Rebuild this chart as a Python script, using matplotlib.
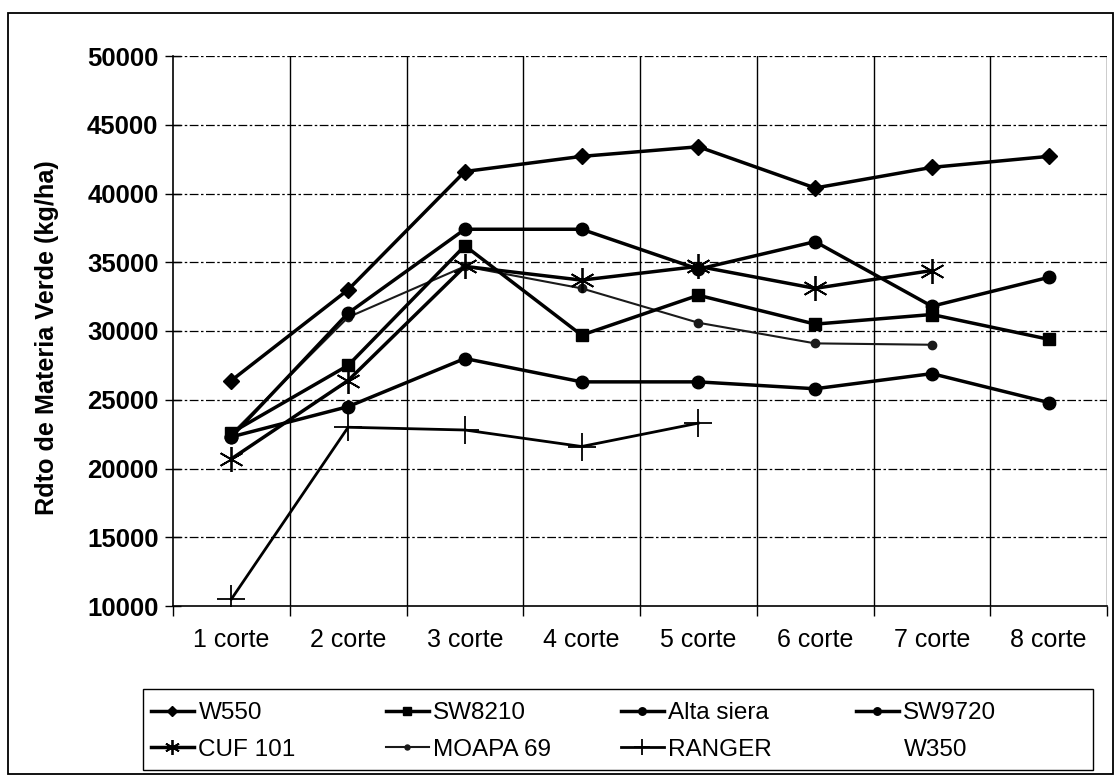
import numpy as np
import matplotlib
matplotlib.use("Agg")
import matplotlib.pyplot as plt
from matplotlib.lines import Line2D
from matplotlib.patches import Rectangle

plt.rcParams['font.family'] = ['Liberation Sans', 'DejaVu Sans']

# rendimiento por corte (kg/ha)
cortes = ['1 corte', '2 corte', '3 corte', '4 corte', '5 corte', '6 corte', '7 corte', '8 corte']
w550 = [26400, 33000, 41600, 42700, 43400, 40400, 41900, 42700]
sw8210 = [22600, 27500, 36200, 29700, 32600, 30500, 31200, 29400]
alta_siera = [22300, 31300, 37400, 37400, 34500, 36500, 31800, 33900]
sw9720 = [22300, 24500, 28000, 26300, 26300, 25800, 26900, 24800]
cuf101 = [20700, 26400, 34700, 33700, 34700, 33100, 34400, np.nan]
moapa69 = [22500, 31000, 34700, 33100, 30600, 29100, 29000, np.nan]
ranger = [10500, 23000, 22800, 21600, 23300, np.nan, np.nan, np.nan]

W, H = 1117, 777
fig = plt.figure(figsize=(W / 100, H / 100), dpi=100)
ax = fig.add_axes([173 / W, 1 - 606 / H, (1107 - 173) / W, (606 - 56) / H])

x = np.arange(len(cortes)) + 0.5

# grid primero, las series encima
for yv in range(15000, 50001, 5000):
    ax.axhline(yv, color='black', lw=0.9, dashes=(7, 2, 2, 2), zorder=1)
for xv in range(1, len(cortes) + 1):
    ax.axvline(xv, color='black', lw=1.0, zorder=1)

h_w550, = ax.plot(x, w550, color='black', lw=2.5, marker='D', ms=8, label='W550', zorder=3)
h_sw8210, = ax.plot(x, sw8210, color='black', lw=2.5, marker='s', ms=9, label='SW8210', zorder=3)
h_alta, = ax.plot(x, alta_siera, color='black', lw=2.5, marker='o', ms=9, label='Alta siera', zorder=3)
h_sw9720, = ax.plot(x, sw9720, color='black', lw=2.5, marker='o', ms=9, label='SW9720', zorder=3)
h_cuf, = ax.plot(x, cuf101, color='black', lw=2.5, marker=(6, 2, 0), ms=18, mew=1.3, label='CUF 101', zorder=3)
h_moapa, = ax.plot(x, moapa69, color='#1a1a1a', lw=1.5, marker='o', ms=6, label='MOAPA 69', zorder=2)
h_ranger, = ax.plot(x, ranger, color='black', lw=2.0, marker='+', ms=20, mew=1.3, label='RANGER', zorder=3)
h_w350 = Line2D([], [], linestyle='none', marker='none', label='W350')

ax.set_xlim(0, len(cortes))
ax.set_ylim(10000, 50000)
ax.set_yticks(range(10000, 50001, 5000))
ax.set_yticklabels([str(v) for v in range(10000, 50001, 5000)], fontsize=18.5, fontweight='bold')
ax.tick_params(axis='y', direction='inout', length=11, width=1, pad=5)

ax.set_xticks(x)
ax.set_xticklabels(cortes, fontsize=18)
ax.set_xticks(np.arange(0, len(cortes) + 1), minor=True)
ax.tick_params(axis='x', which='major', length=0, pad=16)
ax.tick_params(axis='x', which='minor', direction='out', length=7, width=1)

for s in ['top', 'right']:
    ax.spines[s].set_visible(False)
ax.spines['left'].set_linewidth(1.2)
ax.spines['bottom'].set_linewidth(1.2)

fig.text(47 / W, 1 - 338 / H, 'Rdto de Materia Verde (kg/ha)', rotation=90,
         ha='center', va='center', fontsize=18.2, fontweight='bold')

# leyenda: caja propia y 4 columnas de igual ancho
fig.patches.append(Rectangle((143 / W, 1 - 770 / H), (1093 - 143) / W, (770 - 689) / H,
                             transform=fig.transFigure, fill=False, ec='black', lw=1.0))
columnas = [(h_w550, h_cuf), (h_sw8210, h_moapa), (h_alta, h_ranger), (h_sw9720, h_w350)]
for i, par in enumerate(columnas):
    leg = fig.legend(handles=list(par), labels=[h.get_label() for h in par],
                     loc='upper left', bbox_to_anchor=((151 + i * 235) / W, 1 - 702 / H),
                     fontsize=17.5, handlelength=1.75, handletextpad=0.2, markerscale=0.6,
                     frameon=False, borderpad=0.0, borderaxespad=0.0, labelspacing=0.6)

# marco exterior del grafico
fig.patches.append(Rectangle((8 / W, 1 - 774 / H), (1113 - 8) / W, (774 - 13) / H,
                             transform=fig.transFigure, fill=False, ec='black', lw=1.3))

fig.savefig('out.png', dpi=100)
